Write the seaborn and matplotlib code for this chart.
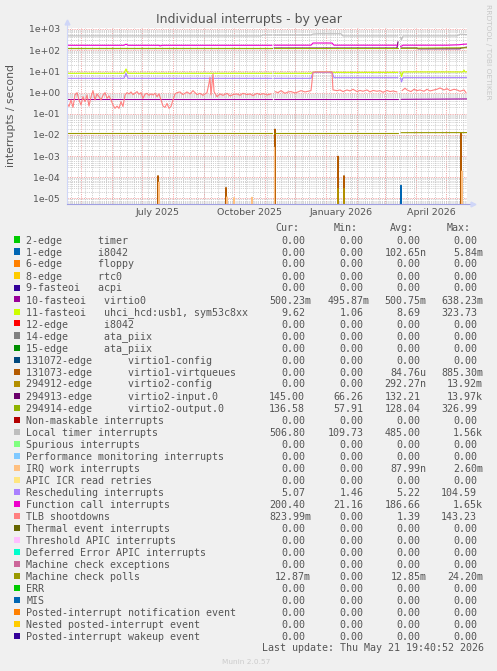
import numpy as np
import pandas as pd
import seaborn as sns
import matplotlib
matplotlib.use("Agg")
import matplotlib.pyplot as plt
import matplotlib.dates as mdates
from matplotlib.patches import Rectangle
from matplotlib.ticker import LogLocator, NullFormatter, FuncFormatter, FixedLocator

nan = np.nan
START = pd.Timestamp("2025-04-16 19:40:52")
SPAN_DAYS = 400

# legend rows (munin order)
labels = [
    "2-edge      timer", "1-edge      i8042", "6-edge      floppy", "8-edge      rtc0",
    "9-fasteoi   acpi", "10-fasteoi   virtio0", "11-fasteoi   uhci_hcd:usb1, sym53c8xx",
    "12-edge      i8042", "14-edge      ata_piix", "15-edge      ata_piix",
    "131072-edge      virtio1-config", "131073-edge      virtio1-virtqueues",
    "294912-edge      virtio2-config", "294913-edge      virtio2-input.0",
    "294914-edge      virtio2-output.0", "Non-maskable interrupts", "Local timer interrupts",
    "Spurious interrupts", "Performance monitoring interrupts", "IRQ work interrupts",
    "APIC ICR read retries", "Rescheduling interrupts", "Function call interrupts",
    "TLB shootdowns", "Thermal event interrupts", "Threshold APIC interrupts",
    "Deferred Error APIC interrupts", "Machine check exceptions", "Machine check polls",
    "ERR", "MIS", "Posted-interrupt notification event", "Nested posted-interrupt event",
    "Posted-interrupt wakeup event",
]
colors = [
    "#00CC00", "#0066B3", "#FF8000", "#FFCC00", "#330099", "#990099", "#CCFF00", "#FF0000",
    "#808080", "#008F00", "#00487D", "#B35A00", "#B38F00", "#6B006B", "#8FB300", "#B30000",
    "#BEBEBE", "#80FF80", "#80C9FF", "#FFC080", "#FFE680", "#AA80FF", "#EE00CC", "#FF8080",
    "#666600", "#FFBFFF", "#00FFCC", "#CC6699", "#999900", "#00CC00", "#0066B3", "#FF8000",
    "#FFCC00", "#330099",
]
cur = ["0.00", "0.00", "0.00", "0.00", "0.00", "500.23m", "9.62", "0.00", "0.00", "0.00",
       "0.00", "0.00", "0.00", "145.00", "136.58", "0.00", "506.80", "0.00", "0.00", "0.00",
       "0.00", "5.07", "200.40", "823.99m", "0.00", "0.00", "0.00", "0.00", "12.87m", "0.00",
       "0.00", "0.00", "0.00", "0.00"]
mins = ["0.00", "0.00", "0.00", "0.00", "0.00", "495.87m", "1.06", "0.00", "0.00", "0.00",
        "0.00", "0.00", "0.00", "66.26", "57.91", "0.00", "109.73", "0.00", "0.00", "0.00",
        "0.00", "1.46", "21.16", "0.00", "0.00", "0.00", "0.00", "0.00", "0.00", "0.00",
        "0.00", "0.00", "0.00", "0.00"]
avgs = ["0.00", "102.65n", "0.00", "0.00", "0.00", "500.75m", "8.69", "0.00", "0.00", "0.00",
        "0.00", "84.76u", "292.27n", "132.21", "128.04", "0.00", "485.00", "0.00", "0.00",
        "87.99n", "0.00", "5.22", "186.66", "1.39", "0.00", "0.00", "0.00", "0.00", "12.85m",
        "0.00", "0.00", "0.00", "0.00", "0.00"]
maxs = ["0.00", "5.84m", "0.00", "0.00", "0.00", "638.23m", "323.73", "0.00", "0.00", "0.00",
        "0.00", "885.30m", "13.92m", "13.97k", "326.99", "0.00", "1.56k", "0.00", "0.00",
        "2.60m", "0.00", "104.59", "1.65k", "143.23", "0.00", "0.00", "0.00", "0.00", "24.20m",
        "0.00", "0.00", "0.00", "0.00", "0.00"]

# time series, days after START; nan = no data
local_timer_days = [0, 100, 194, 196, 205, 206, 207, 244, 246, 252, 274, 276, 331, 332, 333.5, 334.5, 336, 390, 393, 400]
local_timer_vals = [470, 470, 470, 520, 520, nan, 520, 520, 580, 600, 600, 470, 470, nan, 420, 310, 470, 470, 570, 545]

func_call_days = [0, 57, 59, 61, 92, 93, 95, 205, 206, 207, 244, 246, 265, 267, 331, 332, 333.5, 335, 336, 380, 392, 396, 400]
func_call_vals = [170, 170, 192, 170, 170, 158, 170, 170, nan, 172, 172, 218, 218, 172, 172, nan, 150, 160, 172, 172, 180, 190, 195]

virtio2_in_days = [0, 205, 206, 207, 330, 331, 332, 334, 350, 351, 393, 394, 400]
virtio2_in_vals = [126, 126, nan, 126, 126, 250, nan, 126, 126, 116, 116, 126, 140]

virtio2_out_days = [0, 205, 206, 207, 331, 332, 334, 400]
virtio2_out_vals = [122, 122, nan, 122, 122, nan, 122, 130]

uhci_days = [0, 57, 59, 61, 205, 206, 207, 244, 246, 265, 267, 331, 332, 333.5, 334.5, 336, 396, 397, 398, 400]
uhci_vals = [8.1, 8.1, 13, 8.1, 8.1, nan, 8.1, 8.1, 9.2, 9.2, 9.0, 9.0, nan, 9.0, 5.6, 9.4, 9.4, 11.5, 9.4, 9.6]

resched_days = [0, 57, 59, 61, 205, 206, 207, 244, 246, 265, 267, 331, 332, 333.5, 334.5, 336, 400]
resched_vals = [4.7, 4.7, 8.0, 4.7, 4.7, nan, 4.7, 4.7, 9.0, 9.0, 5.05, 5.05, nan, 5.05, 3.2, 5.05, 5.07]

virtio0_days = [0, 205, 206, 207, 331, 332, 334, 400]
virtio0_vals = [0.48, 0.48, nan, 0.48, 0.48, nan, 0.48, 0.5]

mc_polls_days = [0, 205, 206, 207, 331, 332, 334, 400]
mc_polls_vals = [0.0128, 0.0128, nan, 0.0128, 0.0128, nan, 0.0128, 0.0129]

tlb_days = [0, 2, 4, 6, 8, 10, 12, 14, 16, 18, 20, 22, 24, 26, 28, 30, 32, 34, 36, 38, 40, 42,
            44, 46, 48, 50, 52, 54, 56, 58, 60, 62, 64, 66, 68, 70, 72, 74, 76, 78, 80, 82, 84,
            86, 88, 90, 92, 94, 96, 98, 100, 102, 104, 106, 108, 110, 113, 116, 120, 123, 126,
            130, 133, 136, 140, 142, 143, 144, 146, 147, 150, 153, 156, 160, 163, 166, 170, 173,
            176, 180, 183, 186, 190, 193, 196, 200, 204, 206, 208, 211, 214, 218, 221, 224, 228,
            231, 234, 238, 241, 244, 246, 248, 263, 265, 266, 270, 273, 276, 280, 283, 286, 290,
            293, 296, 300, 303, 306, 310, 313, 316, 320, 323, 326, 330, 332, 335, 338, 340, 344,
            347, 350, 353, 357, 360, 363, 367, 370, 373, 377, 380, 383, 387, 390, 393, 397, 399]
tlb_vals = [0.31, 0.22, 0.45, 0.20, 0.77, 0.99, 0.45, 0.26, 0.64, 0.37, 0.77, 0.23, 0.64, 1.23,
            0.45, 0.86, 0.64, 0.45, 0.74, 0.99, 0.54, 0.69, 0.45, 0.26, 0.18, 0.23, 0.18, 0.37,
            0.22, 0.77, 0.99, 0.86, 1.07, 0.80, 0.92, 1.11, 0.83, 0.99, 0.54, 0.83, 0.92, 0.74,
            0.86, 0.77, 0.92, 0.64, 0.86, 0.45, 0.23, 0.20, 0.31, 0.18, 0.22, 0.45, 0.86, 0.99,
            1.07, 0.80, 1.07, 0.86, 1.23, 0.80, 0.92, 0.74, 0.99, 2.74, 5.25, 0.77, 7.5, 1.11,
            0.64, 0.86, 0.74, 0.92, 0.69, 0.80, 0.86, 0.74, 0.92, 0.80, 0.86, 0.72, 0.92, 0.80,
            0.89, 0.77, 0.86, nan, 1.11, 0.99, 1.23, 0.92, 1.07, 1.11, 0.96, 1.07, 1.23, 1.07,
            1.15, 1.23, 8.7, 9.4, 9.4, 9.4, 1.33, 1.23, 1.33, 1.11, 1.33, 1.19, 1.43, 1.11, 1.26,
            1.15, 1.33, 1.07, 1.26, 1.15, 1.23, 1.03, 1.26, 1.11, 1.19, 1.07, nan, 1.23, 1.60,
            1.33, 1.11, 1.43, 1.23, 1.33, 1.15, 1.43, 1.19, 1.33, 1.43, 1.65, 1.33, 1.53, 1.23,
            1.43, 1.33, 1.15, 1.33, 0.99]

virtqueues_days = [90, 91, 92, 158, 159, 160, 207, 208, 209, 270, 271, 272, 276, 277, 278, 393, 394, 395]
virtqueues_vals = [0, 1.2e-4, 0, 0, 3.3e-5, 0, 0, 1.9e-2, 0, 0, 1.0e-3, 0, 0, 1.2e-4, 0, 0, 1.3e-2, 0]

virtio2_cfg_days = [270, 271, 272, 276, 277, 278]
virtio2_cfg_vals = [0, 3e-5, 0, 0, 3e-5, 0]

irq_work_days = [91, 92, 93, 159, 160, 161, 166, 167, 168, 184, 185, 186, 206.5, 207.5, 208.5, 394, 395, 396]
irq_work_vals = [0, 6e-5, 0, 0, 1.2e-5, 0, 0, 1.1e-5, 0, 0, 1.15e-5, 0, 0, 2.6e-3, 0, 0, 2e-4, 0]

i8042_days = [333, 334, 335]
i8042_vals = [0, 4.2e-5, 0]

quarter_labels = ["July 2025", "October 2025", "January 2026", "April 2026"]
quarter_label_dates = ["2025-07-16", "2025-10-16", "2026-01-16", "2026-04-16"]

plotted = [
    ("1-edge      i8042", i8042_days, i8042_vals),
    ("10-fasteoi   virtio0", virtio0_days, virtio0_vals),
    ("11-fasteoi   uhci_hcd:usb1, sym53c8xx", uhci_days, uhci_vals),
    ("131073-edge      virtio1-virtqueues", virtqueues_days, virtqueues_vals),
    ("294912-edge      virtio2-config", virtio2_cfg_days, virtio2_cfg_vals),
    ("294913-edge      virtio2-input.0", virtio2_in_days, virtio2_in_vals),
    ("294914-edge      virtio2-output.0", virtio2_out_days, virtio2_out_vals),
    ("Local timer interrupts", local_timer_days, local_timer_vals),
    ("IRQ work interrupts", irq_work_days, irq_work_vals),
    ("Rescheduling interrupts", resched_days, resched_vals),
    ("Function call interrupts", func_call_days, func_call_vals),
    ("TLB shootdowns", tlb_days, tlb_vals),
    ("Machine check polls", mc_polls_days, mc_polls_vals),
]

W, H = 497, 671
TXT = "#555555"
sns.set_style("white")
plt.rcParams["font.family"] = ["DejaVu Sans"]

fig = plt.figure(figsize=(W / 100, H / 100), dpi=100, facecolor="#F0F0F0")
ax = fig.add_axes([67 / W, 1 - 203.5 / H, 400 / W, 175.5 / H])
ax.set_facecolor("white")
ax.set_yscale("log")

for name, days, vals in plotted:
    df = pd.DataFrame({"t": START + pd.to_timedelta(days, unit="D"), "v": vals})
    df["seg"] = df["v"].isna().cumsum()
    df = df.dropna()
    sns.lineplot(data=df, x="t", y="v", units="seg", estimator=None, sort=False,
                 color=colors[labels.index(name)], lw=0.8, ax=ax, legend=False)

ax.set_xlim(START, START + pd.Timedelta(days=SPAN_DAYS))
ax.set_ylim(10 ** -5.236, 10 ** 3.047)
ax.set_xlabel("")
ax.set_ylabel("")

# grid: red dotted majors (decades, month starts), grey dotted minors
dot = (0, (1.4, 1.4))
ax.yaxis.set_major_locator(LogLocator(base=10, numticks=20))
ax.yaxis.set_minor_locator(LogLocator(base=10, subs=np.arange(2, 10), numticks=100))
ax.yaxis.set_major_formatter(FuncFormatter(lambda v, p: f"{v:.0e}"))
ax.yaxis.set_minor_formatter(NullFormatter())
ax.xaxis.set_major_locator(FixedLocator(mdates.date2num(pd.to_datetime(quarter_label_dates))))
ax.set_xticklabels(quarter_labels)
ax.xaxis.set_minor_locator(mdates.WeekdayLocator(byweekday=mdates.MO))
ax.set_axisbelow(True)
ax.grid(True, which="minor", color="#C4C4C4", lw=0.55, ls=dot)
ax.grid(True, which="major", axis="y", color="#F09A9A", lw=0.6, ls=dot)
ax.grid(False, which="major", axis="x")
for m in pd.date_range("2025-05-01", "2026-05-01", freq="MS"):
    ax.axvline(m, color="#F09A9A", lw=0.6, ls=dot, zorder=0.5)

ax.tick_params(axis="both", which="both", length=0, colors=TXT)
ax.tick_params(axis="y", labelsize=6.7, pad=5.3)
ax.tick_params(axis="x", labelsize=6.8, pad=3.4)
for s in ["top", "right"]:
    ax.spines[s].set_visible(False)
ax.spines["left"].set_color("#CFD6F8")
ax.spines["bottom"].set_color("#A0A0E2")
ax.spines["left"].set_linewidth(0.8)
ax.spines["bottom"].set_linewidth(0.8)
ax.plot([0, 0], [1, 1.03], color="#CFD6F8", lw=0.8, transform=ax.transAxes, clip_on=False)
ax.plot([0], [1.035], marker="^", ms=3.5, color="#CFD6F8", transform=ax.transAxes, clip_on=False)
ax.plot([1, 1.013], [0, 0], color="#A0A0E2", lw=0.8, transform=ax.transAxes, clip_on=False)
ax.plot([1.016], [0], marker=">", ms=3.5, color="#CFD6F8", transform=ax.transAxes, clip_on=False)

fig.text(0.5, 1 - 23.3 / H, "Individual interrupts - by year", ha="center", va="baseline",
         size=9, color=TXT)
fig.text(11 / W, 1 - 115.7 / H, "interrupts / second", rotation=90, ha="center", va="center",
         size=7.8, color=TXT)
fig.text(488 / W, 1 - 52 / H, "RRDTOOL / TOBI OETIKER", rotation=270, ha="center", va="center",
         size=5.4, color="#C8C8C8")

# legend table
mono = "DejaVu Sans Mono"
CH = 6.0
col_x = [269, 327.3, 384.3, 441]
for x, head in zip(col_x, ["Cur:", "Min:", "Avg:", "Max:"]):
    fig.text((x + CH) / W, 1 - 231 / H, head, family=mono, size=7.2, color=TXT, va="baseline")


def field(s):
    s = s if s[-1].isalpha() else s + " "
    return len(s.rjust(7)) - len(s)


for i, name in enumerate(labels):
    yb = 243.5 + 12 * i
    fig.patches.append(Rectangle((14 / W, 1 - (yb - 1) / H), 6 / W, 6 / H,
                                 transform=fig.transFigure, color=colors[i], lw=0))
    fig.text(26.3 / W, 1 - yb / H, name, family=mono, size=7.2, color=TXT, va="baseline")
    for x, vals in zip(col_x, [cur, mins, avgs, maxs]):
        s = vals[i]
        fig.text((x + field(s) * CH) / W, 1 - yb / H, s, family=mono, size=7.2,
                 color=TXT, va="baseline")

fig.text(483.5 / W, 1 - 651 / H, "Last update: Thu May 21 19:40:52 2026", family=mono,
         size=7.2, color=TXT, va="baseline", ha="right")
fig.text(246 / W, 1 - 662 / H, "Munin 2.0.57", size=5.3, color="#CCCCCC", ha="center",
         va="center")

fig.savefig("out.png", dpi=100, facecolor=fig.get_facecolor())
